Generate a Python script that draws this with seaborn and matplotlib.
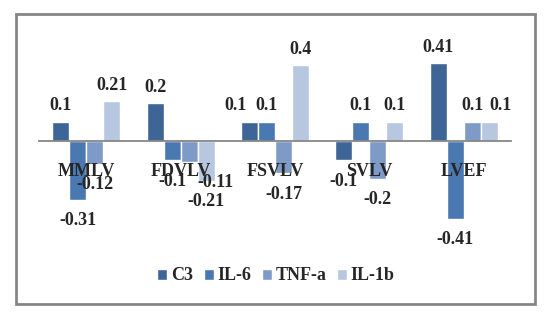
import pandas as pd
import matplotlib
matplotlib.use("Agg")
import matplotlib.pyplot as plt
import seaborn as sns
from matplotlib.patches import Rectangle

categories = ["MMLV", "FDVLV", "FSVLV", "SVLV", "LVEF"]
series = ["C3", "IL-6", "TNF-a", "IL-1b"]
c3 = [0.1, 0.2, 0.1, -0.1, 0.41]
il6 = [-0.31, -0.1, 0.1, 0.1, -0.41]
tnfa = [-0.12, -0.11, -0.17, -0.2, 0.1]
il1b = [0.21, -0.21, 0.4, 0.1, 0.1]
colors = ["#3D6595", "#4A78B0", "#7E9BC8", "#B8C7E0"]

# labels that the original nudged sideways to avoid overlaps (pixels)
nudge = {("FDVLV", "TNF-a"): 26, ("FSVLV", "C3"): -14, ("LVEF", "IL-1b"): 11}

rows = []
for name, vals in zip(series, [c3, il6, tnfa, il1b]):
    for cat, v in zip(categories, vals):
        rows.append({"cat": cat, "series": name, "value": v})
df = pd.DataFrame(rows)

sns.set_style("white")
plt.rcParams["font.family"] = ["Liberation Serif", "DejaVu Serif"]
plt.rcParams["font.weight"] = "bold"

fig = plt.figure(figsize=(5.52, 3.23), dpi=100)
ax = fig.add_axes([39 / 552, 1 - 236 / 323, 472 / 552, 209 / 323])

sns.barplot(data=df, x="cat", y="value", hue="series", palette=colors,
            width=0.72, saturation=1, gap=0, errorbar=None, ax=ax, legend=True)

ax.set_ylim(-0.5, 0.6)
ax.set_xlim(-0.5, 4.5)
ax.set_axisbelow(False)
for s in ["top", "right", "left"]:
    ax.spines[s].set_visible(False)
ax.spines["bottom"].set_position(("data", 0))
ax.spines["bottom"].set_color("#868686")
ax.spines["bottom"].set_linewidth(1.3)
ax.set_yticks([])
ax.tick_params(axis="x", length=0, pad=16, labelsize=13)
ax.set_xlabel("")
ax.set_ylabel("")

for name, cont in zip(series, ax.containers):
    for cat, bar, v in zip(categories, cont, cont.datavalues):
        dx = nudge.get((cat, name), 0)
        dy = 16 if v >= 0 else -21
        ax.annotate(f"{v:g}", (bar.get_x() + bar.get_width() / 2, v),
                    xytext=(dx, dy), textcoords="offset pixels",
                    ha="center", va="center", fontsize=13, fontweight="bold")

handles, labels = ax.get_legend_handles_labels()
ax.get_legend().remove()
fig.legend(handles, labels, loc="center", bbox_to_anchor=(0.5, 1 - 276 / 323),
           ncol=4, frameon=False, fontsize=13, handlelength=0.55,
           handleheight=0.55, handletextpad=0.2, columnspacing=0.6)

fig.patches.append(Rectangle((16 / 552, 1 - 304 / 323), 519 / 552, 290 / 323,
                             transform=fig.transFigure, fill=False,
                             edgecolor="#868686", linewidth=2))

fig.savefig("out.png", dpi=100)
